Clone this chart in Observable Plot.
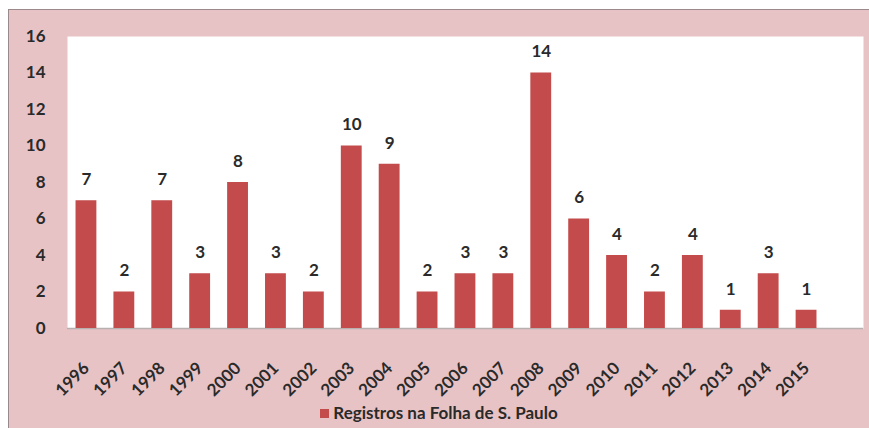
<!DOCTYPE html>
<html>
<head>
<meta charset="utf-8">
<script src="https://cdn.jsdelivr.net/npm/d3@7"></script>
<script src="https://cdn.jsdelivr.net/npm/@observablehq/plot@0.6"></script>
<style>
  html, body { margin: 0; padding: 0; background: #fff; width: 869px; height: 428px; overflow: hidden; }
  #frame {
    position: absolute; left: 8px; top: 9px; width: 860px; height: 418px;
    border-top: 1px solid #9a8a8b; border-left: 1px solid #9a8a8b;
    background: #e7c3c5;
    font-family: Lato, "Open Sans", sans-serif;
  }
  #legend {
    position: absolute; left: 0; top: 392px; width: 860px; text-align: center;
    font-weight: bold; font-size: 17px; color: #2a2a2a;
  }
  #legend .sw { display: inline-block; width: 9px; height: 9px; background: #c44b4b; margin-right: 4px; vertical-align: 1px; }
</style>
</head>
<body>
<div id="frame"><div id="chart"></div><div id="legend"><span class="sw"></span>Registros na Folha de S. Paulo</div></div>
<script>
const years = ["1996","1997","1998","1999","2000","2001","2002","2003","2004","2005","2006","2007","2008","2009","2010","2011","2012","2013","2014","2015"];
const registros = [7,2,7,3,8,3,2,10,9,2,3,3,14,6,4,2,4,1,3,1];
const yTicks = [0,2,4,6,8,10,12,14,16];
const seriesName = "Registros na Folha de S. Paulo";

const data = years.map((y, i) => ({year: y, value: registros[i]}));
const barColor = "#c44b4b";

const chart = Plot.plot({
  width: 860,
  height: 390,
  marginLeft: 58,
  marginRight: 6,
  marginTop: 26,
  marginBottom: 72,
  style: {fontFamily: "Lato, 'Open Sans', sans-serif", fontWeight: "bold", color: "#2a2a2a", background: "transparent"},
  x: {domain: years, range: [58, 816], paddingInner: 0.45, paddingOuter: 0.225, round: false, label: null},
  y: {domain: [0, 16], ticks: yTicks, label: null},
  marks: [
    Plot.frame({fill: "white", stroke: null}),
    Plot.ruleY([0], {stroke: "#b8b0b0", strokeWidth: 1.5}),
    Plot.barY(data, {x: "year", y: "value", fill: barColor}),
    Plot.text(data, {x: "year", y: "value", text: d => String(d.value), dy: -21, fontSize: 17, fontWeight: "bold", fill: "#2a2a2a"}),
    Plot.axisY({ticks: yTicks, tickSize: 0, tickPadding: 22, fontSize: 17, fontWeight: "bold", label: null}),
    Plot.axisX({tickSize: 0, tickPadding: 37, tickRotate: -45, fontSize: 17, fontWeight: "bold", label: null})
  ]
});
document.getElementById("chart").appendChild(chart);
</script>
</body>
</html>
